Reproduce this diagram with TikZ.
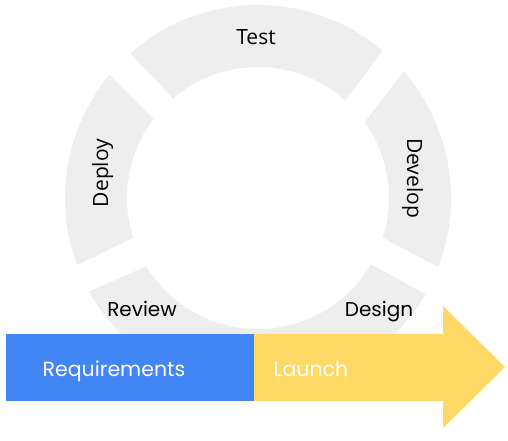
\documentclass[tikz,border=0pt]{standalone}
\usepackage{fontspec}
\setmainfont{Poppins}
\newfontfamily\ringfont{Open Sans}
\usepackage{xcolor}
\usetikzlibrary{calc}

\definecolor{ringgray}{HTML}{EEEEEE}
\definecolor{reqblue}{HTML}{4285F4}
\definecolor{launchyellow}{HTML}{FFD966}

\tikzset{
	ring/.style = {fill = ringgray},
	phase/.style = {font = \ringfont\fontsize{21}{21}\selectfont, inner sep = 0pt},
	stage/.style = {font = \fontsize{20}{20}\selectfont, inner sep = 0pt},
	barlabel/.style = {font = \fontsize{20.5}{20.5}\selectfont, text = white, inner sep = 0pt}
}

\begin{document}
\begin{tikzpicture}[x = 1pt, y = 1pt]
	\def\Rout{193};
	\def\Rin{131};
	\coordinate (C) at (258,243);
	\useasboundingbox (0,0) rectangle (508,441);

	\begin{scope}
		\fill [ring] ($(C)+(49.8:\Rout)$) arc [start angle = 49.8, end angle = 131.4, radius = \Rout] -- ($(C)+(130.4:\Rin)$) arc [start angle = 130.4, end angle = 48.1, radius = \Rin] -- cycle;
		\fill [ring] ($(C)+(140.3:\Rout)$) arc [start angle = 140.3, end angle = 200.3, radius = \Rout] -- ($(C)+(197.7:\Rin)$) arc [start angle = 197.7, end angle = 142.8, radius = \Rin] -- cycle;
		\fill [ring] ($(C)+(209:\Rout)$) arc [start angle = 209, end angle = 270, radius = \Rout] -- ($(C)+(270:\Rin)$) arc [start angle = 270, end angle = 211.4, radius = \Rin] -- cycle;
		\fill [ring] ($(C)+(-90:\Rout)$) arc [start angle = -90, end angle = -29.9, radius = \Rout] -- ($(C)+(-30.4:\Rin)$) arc [start angle = -30.4, end angle = -90, radius = \Rin] -- cycle;
		\fill [ring] ($(C)+(-21:\Rout)$) arc [start angle = -21, end angle = 41, radius = \Rout] -- ($(C)+(35.4:\Rin)$) arc [start angle = 35.4, end angle = -17.6, radius = \Rin] -- cycle;
	\end{scope}

	\begin{scope}
		\fill [reqblue] (6,40) rectangle (254,107);
		\fill [launchyellow] (254,40) -- (443,40) -- (443,13) -- (505,74) -- (443,135) -- (443,107) -- (254,107) -- cycle;
	\end{scope}

	\node [phase, anchor = base] (test) at (256,396) {Test};
	\node [phase, anchor = base, rotate = 90] (deploy) at (108,268) {Deploy};
	\node [phase, anchor = base, rotate = -90] (develop) at (407,263) {Develop};
	\node [stage, anchor = base] (review) at (142,124) {Review};
	\node [stage, anchor = base] (design) at (379,124) {Design};
	\node [barlabel, anchor = base] (requirements) at (114,64) {Requirements};
	\node [barlabel, anchor = base] (launch) at (311,64) {Launch};
\end{tikzpicture}
\end{document}
